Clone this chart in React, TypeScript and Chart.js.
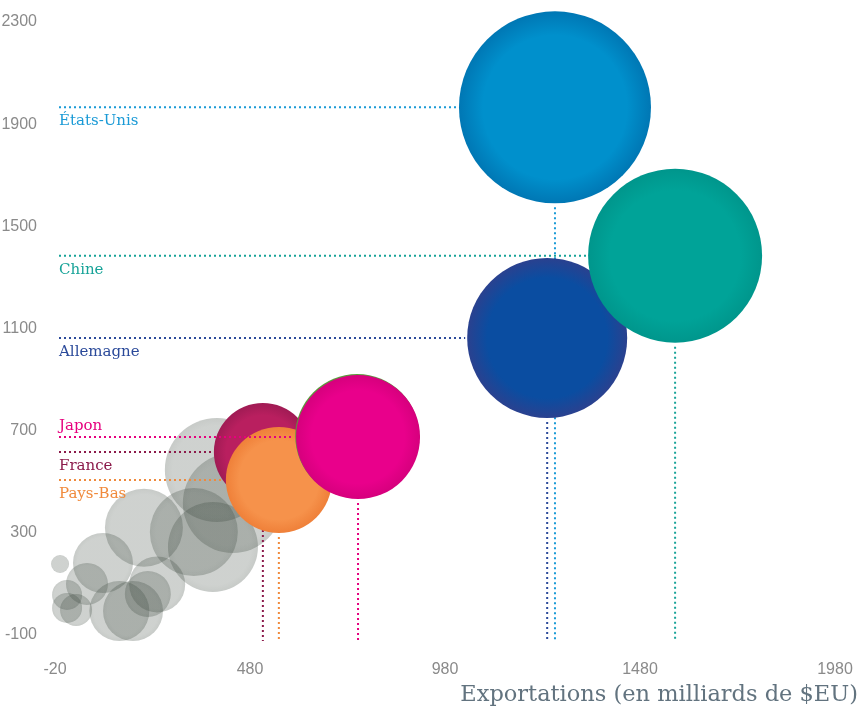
import React, { useEffect, useRef } from "react";
import { Chart, registerables } from "chart.js";

Chart.register(...registerables);

// ---- Data ----
const countries = ["États-Unis", "Chine", "Allemagne", "Japon", "France", "Pays-Bas"];
const countryExports = [1262, 1570, 1242, 757, 513, 554];
const countryImports = [1966, 1385, 1063, 675, 616, 507];
const countrySizes = [96, 87, 80, 62, 49, 53];
const countryInner = ["#0090cc", "#00a398", "#0a4da1", "#e9008b", "#b91f5f", "#f6924b"];
const countryOuter = ["#0077b4", "#00968c", "#2a418f", "#d6007d", "#a01b54", "#ef8039"];
const countryLineColors = ["#1a9ad6", "#17a398", "#2b4a9a", "#e6007e", "#8b1a4a", "#f08a3c"];
const labelAbove = [false, false, false, true, false, false];
// drawing stack: higher = further back
const countryStack = [9, 7, 8, 3, 6, 5];

const hiddenExports = [755];
const hiddenImports = [679];
const hiddenSizes = [62];

const otherExports = [-7, 11, 11, 34, 62, 103, 145, 180, 218, 242, 208, 336, 385, 395, 436];
const otherImports = [178, 57, 6, -2, 100, 182, -6, -6, 61, 98, 320, 303, 245, 546, 417];
const otherSizes = [9, 15, 15, 16, 21, 30, 30, 30, 23, 28, 39, 44, 45, 52, 50];

const xMin = -20;
const xMax = 1980;
const xStep = 500;
const yMin = -100;
const yMax = 2300;
const yStep = 400;
const xTitle = "Exportations (en milliards de $EU)";

const radialFill = (inner: string, outer: string, stop: number) => (ctx: any) => {
  const chart = ctx.chart;
  const raw = ctx.raw;
  if (!raw || !chart.chartArea || !chart.scales.x) return inner;
  const x = chart.scales.x.getPixelForValue(raw.x);
  const y = chart.scales.y.getPixelForValue(raw.y);
  const r = Math.max(raw.r, 1);
  const g = chart.ctx.createRadialGradient(x, y, 0, x, y, r);
  g.addColorStop(0, inner);
  g.addColorStop(stop, inner);
  g.addColorStop(1, outer);
  return g;
};

const guidePlugin = {
  id: "guides",
  beforeDatasetDraw(chart: any, args: any) {
    const ds = chart.data.datasets[args.index];
    if (ds.countryIndex === undefined) return;
    const i = ds.countryIndex;
    const el = args.meta.data[0];
    if (!el) return;
    const cx = el.x;
    const cy = el.y;
    const r = el.options.radius;
    const ctx = chart.ctx;
    const area = chart.chartArea;
    ctx.save();
    ctx.strokeStyle = countryLineColors[i];
    ctx.lineWidth = 2;
    ctx.setLineDash([2, 3]);
    ctx.beginPath();
    ctx.moveTo(area.left + 4, cy);
    ctx.lineTo(cx - r - 2, cy);
    ctx.stroke();
    ctx.beginPath();
    ctx.moveTo(cx, cy + r + 4);
    ctx.lineTo(cx, area.bottom + 6);
    ctx.stroke();
    ctx.restore();
  },
  afterDatasetsDraw(chart: any) {
    const ctx = chart.ctx;
    const area = chart.chartArea;
    ctx.save();
    ctx.font = "15px 'DejaVu Serif'";
    ctx.textAlign = "left";
    ctx.textBaseline = "middle";
    countries.forEach((name, i) => {
      const y = chart.scales.y.getPixelForValue(countryImports[i]);
      ctx.fillStyle = countryLineColors[i];
      ctx.fillText(name, area.left + 4, y + (labelAbove[i] ? -11 : 14));
    });
    ctx.restore();
  },
  afterDraw(chart: any) {
    const ctx = chart.ctx;
    ctx.save();
    ctx.font = "22.5px 'DejaVu Serif'";
    ctx.fillStyle = "#62737f";
    ctx.textAlign = "right";
    ctx.textBaseline = "alphabetic";
    ctx.fillText(xTitle, chart.width - 3, 701);
    ctx.restore();
  },
};

export default function App() {
  const canvasRef = useRef<HTMLCanvasElement | null>(null);

  useEffect(() => {
    document.body.style.margin = "0";
    const canvas = canvasRef.current;
    if (!canvas) return;

    const datasets: any[] = [];
    datasets.push({
      label: "Autres",
      data: otherExports.map((x, i) => ({ x, y: otherImports[i], r: otherSizes[i] })),
      backgroundColor: radialFill("rgba(62,74,64,0.25)", "rgba(62,74,64,0.29)", 0.85),
      borderWidth: 0,
      order: 10,
      clip: false,
    });
    datasets.push({
      label: "hidden",
      data: hiddenExports.map((x, i) => ({ x, y: hiddenImports[i], r: hiddenSizes[i] })),
      backgroundColor: "#5b9a3c",
      borderWidth: 0,
      order: 4,
      clip: false,
    });
    countries.forEach((name, i) => {
      datasets.push({
        label: name,
        countryIndex: i,
        data: [{ x: countryExports[i], y: countryImports[i], r: countrySizes[i] }],
        backgroundColor: radialFill(countryInner[i], countryOuter[i], 0.75),
        borderWidth: 0,
        order: countryStack[i],
        clip: false,
      });
    });

    const tickFont = { family: "'Liberation Sans'", size: 16 };

    const chart = new Chart(canvas, {
      type: "bubble",
      data: { datasets },
      plugins: [guidePlugin],
      options: {
        animation: false,
        responsive: true,
        maintainAspectRatio: false,
        layout: { autoPadding: false, padding: { left: 0, top: 22, right: 26, bottom: 0 } },
        plugins: {
          legend: { display: false },
          tooltip: { enabled: false },
        },
        scales: {
          x: {
            type: "linear",
            min: xMin,
            max: xMax,
            grid: { display: false },
            border: { display: false },
            ticks: {
              stepSize: xStep,
              padding: 17,
              color: "#8a8a8a",
              font: tickFont,
              maxRotation: 0,
              callback: (v: any) => String(v),
            },
            afterFit: (s: any) => {
              s.height = 73;
              s.paddingLeft = 0;
              s.paddingRight = 0;
            },
          },
          y: {
            type: "linear",
            min: yMin,
            max: yMax,
            grid: { display: false },
            border: { display: false },
            ticks: {
              stepSize: yStep,
              padding: 10,
              color: "#8a8a8a",
              font: tickFont,
              callback: (v: any) => String(v),
            },
            afterFit: (s: any) => {
              s.width = 55;
              s.paddingTop = 0;
              s.paddingBottom = 0;
            },
          },
        },
      } as any,
    });

    return () => chart.destroy();
  }, []);

  return (
    <div style={{ width: 861, height: 708, position: "relative" }}>
      <canvas ref={canvasRef} />
    </div>
  );
}
